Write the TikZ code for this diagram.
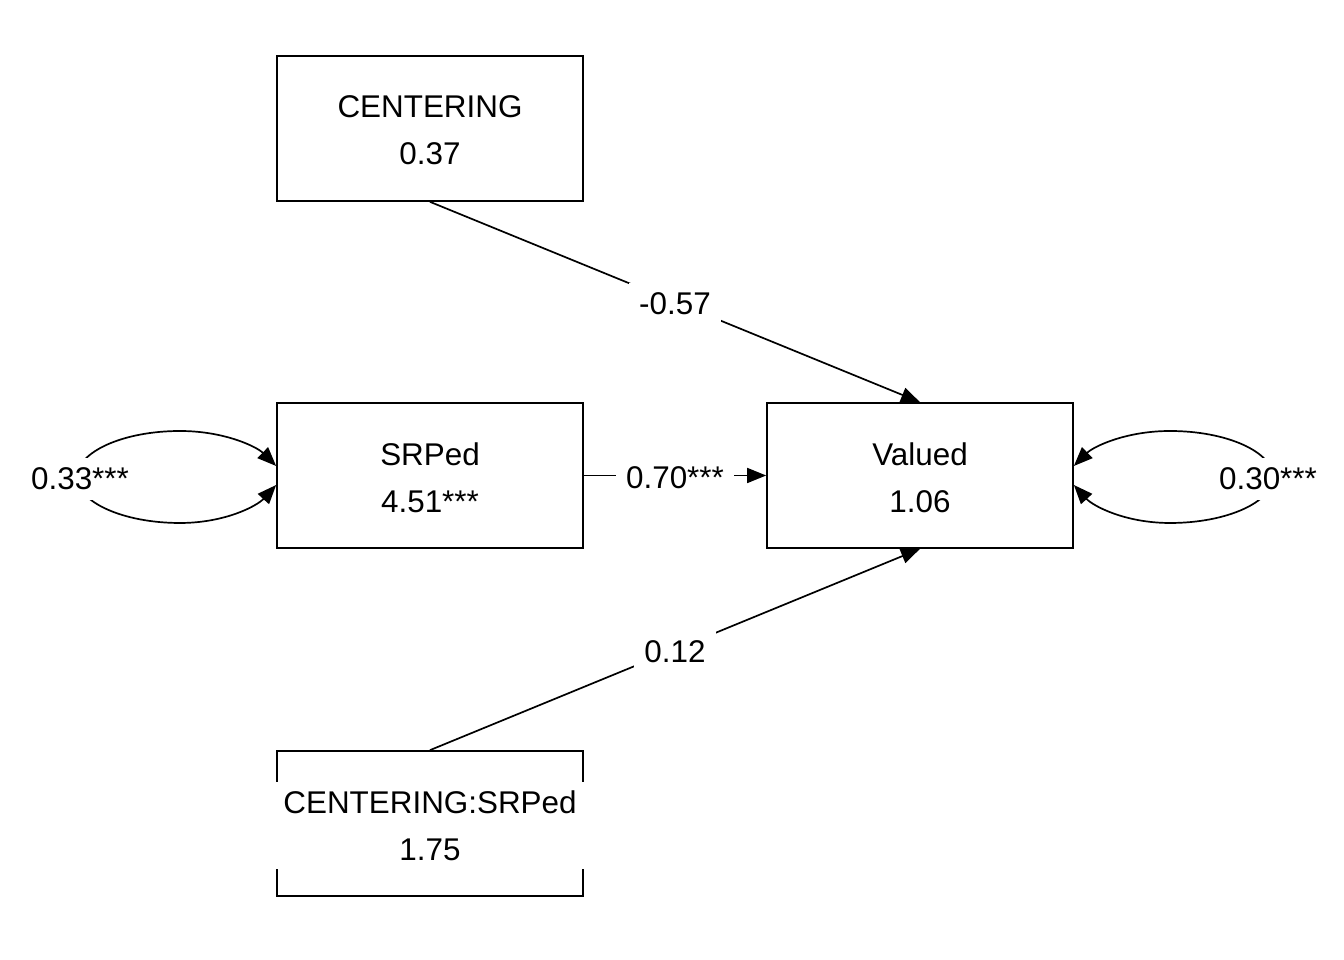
\documentclass[tikz,border=0pt]{standalone}
\usepackage{fontspec}
\setmainfont{Liberation Sans}
\usetikzlibrary{arrows.meta}

\begin{document}
\begin{tikzpicture}[x=1pt,y=1pt]
\tikzset{VertexStyle/.style={draw,line width=1.7pt,minimum width=306pt,minimum height=145pt,inner sep=0pt}}
\tikzset{TextStyle/.style={fill=white,align=center,inner xsep=8pt,inner ysep=8pt,yshift=-2pt,font=\fontsize{31.4}{47}\selectfont}}
\tikzset{EdgeStyle/.style={line width=1.7pt,-{Triangle[length=19pt,width=15pt]}}}
\tikzset{LoopStyle/.style={line width=1.7pt,{Triangle[length=19pt,width=15pt]}-{Triangle[length=19pt,width=15pt]}}}
\tikzset{LabelStyle/.style={fill=white,inner xsep=10pt,inner ysep=10pt,yshift=-2pt,font=\fontsize{31.4}{38}\selectfont}}
\useasboundingbox (0,0) rectangle (1344,960);
\node[VertexStyle] (C) at (430,831.5) {};
\node[VertexStyle] (S) at (430,484.5) {};
\node[VertexStyle] (V) at (920,484.5) {};
\node[VertexStyle] (I) at (430,136.5) {};
\node[TextStyle] (tC) at (C) {CENTERING\\0.37};
\node[TextStyle] (tS) at (S) {SRPed\\4.51***};
\node[TextStyle] (tV) at (V) {Valued\\1.06};
\node[TextStyle] (tI) at (I) {CENTERING:SRPed\\1.75};
\draw[EdgeStyle] (C.south) -- node[LabelStyle] (eC) {-0.57} (V.north);
\draw[EdgeStyle] (S.east) -- node[LabelStyle] (eS) {0.70***} (V.west);
\draw[EdgeStyle] (I.north) -- node[LabelStyle] (eI) {0.12} (V.south);
\draw[LoopStyle] ([yshift=-9.5pt]S.west) .. controls (257,454) and (225,437) .. (180,437)
  .. controls (123,437) and (77,458) .. (77,483) .. controls (77,508) and (123,529) .. (180,529)
  .. controls (225,529) and (257,513) .. ([yshift=9.5pt]S.west);
\draw[LoopStyle] ([yshift=-9.5pt]V.east) .. controls (1093,454) and (1125,437) .. (1170,437)
  .. controls (1227,437) and (1273,458) .. (1273,483) .. controls (1273,508) and (1227,529) .. (1170,529)
  .. controls (1125,529) and (1093,513) .. ([yshift=9.5pt]V.east);
\node[LabelStyle] (rS) at (80,483) {0.33***};
\node[LabelStyle] (rV) at (1268,483) {0.30***};
\end{tikzpicture}
\end{document}
